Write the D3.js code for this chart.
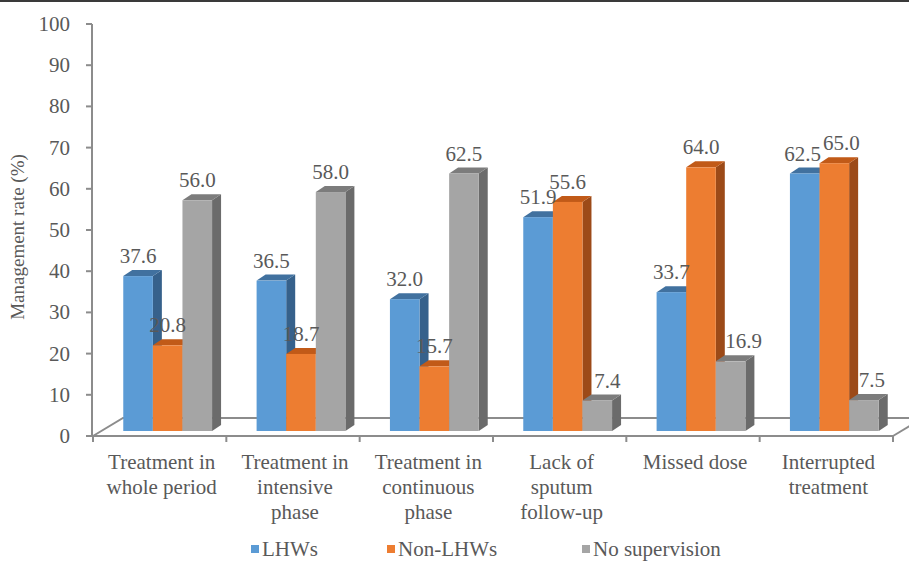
<!DOCTYPE html>
<html>
<head>
<meta charset="utf-8">
<script src="https://cdn.jsdelivr.net/npm/d3@7"></script>
<style>
  html, body { margin: 0; padding: 0; background: #fff; }
  svg { display: block; }
</style>
</head>
<body>
<svg id="chart" width="909" height="562"></svg>
<script>
// Management rate (%) by supervision type
const categories = [
  "Treatment in whole period",
  "Treatment in intensive phase",
  "Treatment in continuous phase",
  "Lack of sputum follow-up",
  "Missed dose",
  "Interrupted treatment"
];
const categoryLines = [
  ["Treatment in", "whole period"],
  ["Treatment in", "intensive", "phase"],
  ["Treatment in", "continuous", "phase"],
  ["Lack of", "sputum", "follow-up"],
  ["Missed dose"],
  ["Interrupted", "treatment"]
];
const seriesNames = ["LHWs", "Non-LHWs", "No supervision"];
const lhws = [37.6, 36.5, 32.0, 51.9, 33.7, 62.5];
const nonLhws = [20.8, 18.7, 15.7, 55.6, 64.0, 65.0];
const noSupervision = [56.0, 58.0, 62.5, 7.4, 16.9, 7.5];
const yTicks = [0, 10, 20, 30, 40, 50, 60, 70, 80, 90, 100];

const seriesValues = [lhws, nonLhws, noSupervision];
const palette = [
  { front: "#5b9bd5", top: "#41719f", side: "#36618b" },
  { front: "#ed7d31", top: "#c15a18", side: "#9c4a18" },
  { front: "#a5a5a5", top: "#7c7c7c", side: "#6b6b6b" }
];

const svg = d3.select("#chart")
  .attr("font-family", "'Liberation Serif', 'Times New Roman', serif");
const W = 909, H = 562;
const textColor = "#595959";
const axisColor = "#8c8c8c";
const fontSize = 21;

// frame line along the top edge
svg.append("rect").attr("x", 0).attr("y", 0).attr("width", W).attr("height", 2).attr("fill", "#3a3a3a");

// plot geometry (front plane of the floor) and oblique depth projection
const left = 93, right = 893, y0px = 436, y100px = 24;
const floorDepth = { dx: 30, dy: -18 };
const barShift = { dx: 8, dy: -5 };   // bars stand part-way back on the floor
const barDepth = { dx: 9, dy: -6 };   // visible depth of each bar
// horizontal nudges for data labels that sit clear of their neighbours
const labelNudge = [
  [0, 0, 0],
  [0, 0, 0],
  [0, 0, 0],
  [0, 0, 10],
  [0, 0, 13],
  [-2, 7, 8]
];

const x0 = d3.scaleBand().domain(categories).range([left, right]).padding(0);
const x1 = d3.scaleBand().domain(seriesNames)
  .range([x0.bandwidth() * 0.167, x0.bandwidth() * 0.833]).padding(0);
const y = d3.scaleLinear().domain([0, 100]).range([y0px, y100px]);

// floor
const floor = svg.append("g").attr("fill", "none").attr("stroke", axisColor).attr("stroke-width", 2);
floor.append("path").attr("d", d3.line()([
  [left, y0px], [left + floorDepth.dx, y0px + floorDepth.dy],
  [right + floorDepth.dx, y0px + floorDepth.dy]
]));
floor.append("path").attr("d", d3.line()([
  [right, y0px], [right + floorDepth.dx, y0px + floorDepth.dy]
]));

// bars
const bars = svg.append("g");
categories.forEach((cat, ci) => {
  seriesNames.forEach((s, si) => {
    const v = seriesValues[si][ci];
    const xa = x0(cat) + x1(s) + barShift.dx;
    const xb = xa + x1.bandwidth();
    const yb = y(0) + barShift.dy;
    const yt = y(v) + barShift.dy;
    const c = palette[si];
    const dx = barDepth.dx, dy = barDepth.dy;
    bars.append("path").attr("fill", c.side)
      .attr("d", d3.line()([[xb, yt], [xb + dx, yt + dy], [xb + dx, yb + dy], [xb, yb]]) + "Z");
    bars.append("path").attr("fill", c.top)
      .attr("d", d3.line()([[xa, yt], [xa + dx, yt + dy], [xb + dx, yt + dy], [xb, yt]]) + "Z");
    bars.append("rect").attr("fill", c.front)
      .attr("x", xa).attr("y", yt).attr("width", xb - xa).attr("height", yb - yt);
  });
});

// front floor edge, value axis and category ticks
const axes = svg.append("g").attr("stroke", axisColor).attr("stroke-width", 2).attr("fill", "none");
axes.append("line").attr("x1", left - 1).attr("x2", right).attr("y1", y0px).attr("y2", y0px);
axes.append("line").attr("x1", left - 1).attr("x2", left - 1).attr("y1", y0px).attr("y2", y(100));
yTicks.forEach(t => {
  axes.append("line").attr("x1", left - 7).attr("x2", left - 1).attr("y1", y(t)).attr("y2", y(t));
});
const catEdges = categories.map(c => x0(c)).concat([right]);
catEdges.forEach(xv => {
  axes.append("line").attr("x1", xv).attr("x2", xv).attr("y1", y0px).attr("y2", y0px + 6);
});

// value axis labels
svg.append("g").selectAll("text").data(yTicks).join("text")
  .attr("x", 70).attr("y", d => y(d) + 7)
  .attr("text-anchor", "end").attr("font-size", fontSize).attr("fill", textColor)
  .text(d => d);

// axis title
svg.append("text")
  .attr("transform", "translate(24,237) rotate(-90)")
  .attr("text-anchor", "middle").attr("font-size", 19).attr("fill", textColor)
  .text("Management rate (%)");

// category labels
const catG = svg.append("g").attr("font-size", fontSize).attr("fill", textColor).attr("text-anchor", "middle");
categories.forEach((cat, ci) => {
  const cx = x0(cat) + x0.bandwidth() / 2 + 2;
  categoryLines[ci].forEach((ln, li) => {
    catG.append("text").attr("x", cx).attr("y", 469 + li * 25).text(ln);
  });
});

// data labels
const lbl = svg.append("g").attr("font-size", fontSize).attr("fill", textColor).attr("text-anchor", "middle");
categories.forEach((cat, ci) => {
  seriesNames.forEach((s, si) => {
    const v = seriesValues[si][ci];
    const cx = x0(cat) + x1(s) + barShift.dx + x1.bandwidth() / 2 + labelNudge[ci][si];
    lbl.append("text").attr("x", cx).attr("y", y(v) + barShift.dy - 13).text(v.toFixed(1));
  });
});

// legend
const legendX = [251, 387, 582];
const leg = svg.append("g");
seriesNames.forEach((s, si) => {
  leg.append("rect").attr("x", legendX[si]).attr("y", 545).attr("width", 8).attr("height", 8)
    .attr("fill", palette[si].front);
  leg.append("text").attr("x", legendX[si] + 11).attr("y", 556)
    .attr("font-size", fontSize).attr("fill", textColor).text(s);
});
</script>
</body>
</html>
